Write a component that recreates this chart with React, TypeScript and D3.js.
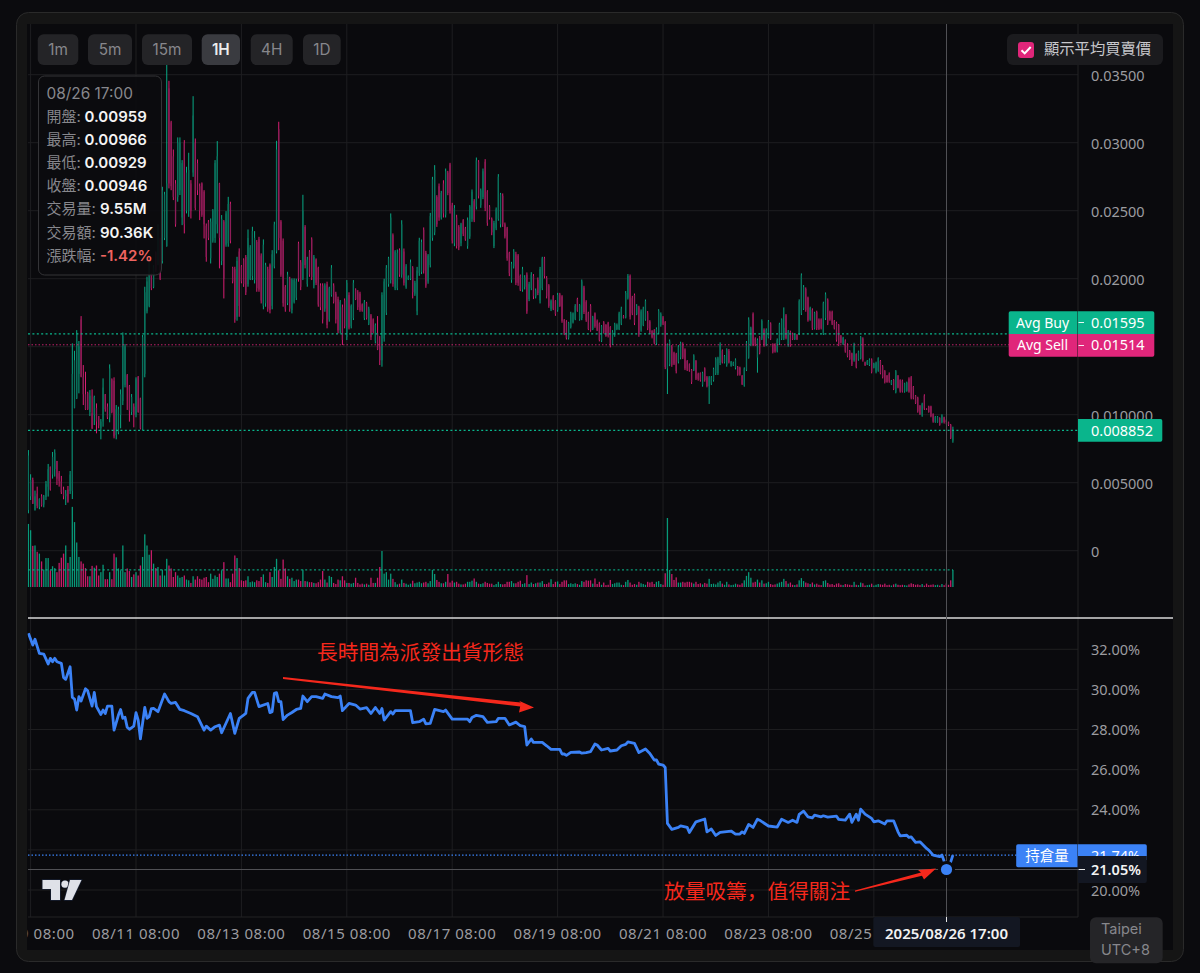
import React from "react";
import * as d3 from "d3";

// candle values in 1e-5 price units, one entry per hourly bar
const candleHigh = [
740,562,537,442,471,385,415,410,513,638,
618,726,745,660,586,550,471,446,476,586,
1525,1470,1622,1542,1725,1365,1316,1169,1181,1186,
1140,1083,990,968,1267,1152,1083,1370,1267,1275,
1071,1059,1186,1605,1520,1299,1218,1152,1083,1275,
1284,1125,1586,1941,2015,2186,2039,2100,2200,2400,
2300,2676,2639,3582,3455,3161,2950,2725,3039,3039,
2872,3019,2823,2926,2725,3342,3031,2877,2700,2708,
2651,2406,2431,2443,2512,2872,3012,2705,2468,2431,
2497,2602,2566,2088,2088,2161,2223,2100,2150,2174,
2362,2247,2382,2350,2284,2308,2186,2289,2117,2088,
2112,2210,2419,3014,3154,2431,2296,1953,2051,2014,
2002,2002,2000,2272,2137,2617,2394,2161,2210,2304,
2174,2149,2088,1966,1966,1966,1978,1941,2100,1966,
1904,1868,1843,1810,1855,1990,1900,1811,1990,1929,
1916,1904,1818,1843,1830,1794,1740,1708,1671,1725,
1578,1900,2000,2100,2161,2480,2333,2210,2215,2223,
2430,2222,2107,2024,2141,2092,1985,2087,2301,2288,
2377,2205,2181,2484,2749,2835,2614,2700,2646,2724,
2810,2793,2852,2558,2541,2470,2394,2411,2438,2381,
2450,2541,2656,2585,2891,2872,2663,2810,2879,2651,
2541,2450,2426,2524,2769,2631,2627,2413,2381,2198,
2124,2217,2198,2181,2031,2087,2026,2046,1977,2048,
2034,1928,2009,2087,2161,2161,2019,1960,1847,1879,
1842,1896,1896,1879,1703,1695,1683,1757,1752,1813,
1860,1813,1994,1948,1842,1757,1813,1727,1752,1700,
1678,1659,1688,1666,1683,1651,1622,1676,1671,1757,
1794,1732,1909,2034,2031,1874,1891,1813,1801,1774,
1794,1847,1762,1695,1622,1629,1642,1776,1752,1725,
1688,1524,1553,1512,1463,1455,1512,1537,1532,1488,
1402,1377,1336,1444,1402,1309,1311,1316,1348,1284,
1284,1284,1346,1422,1426,1532,1480,1439,1488,1483,
1395,1390,1414,1358,1353,1292,1348,1542,1716,1647,
1752,1569,1561,1578,1701,1635,1635,1696,1679,1525,
1525,1561,1676,1708,1789,1740,1623,1618,1603,1593,
1593,1848,2039,1953,1936,1868,1794,1782,1757,1765,
1708,1708,1831,1899,1855,1765,1765,1696,1684,1667,
1586,1573,1554,1525,1476,1456,1529,1451,1471,1578,
1569,1390,1402,1414,1414,1382,1390,1422,1402,1365,
1328,1292,1311,1255,1262,1328,1292,1260,1258,1235,
1243,1275,1284,1211,1145,1132,1071,1088,1150,1047,
1066,1066,1010,990,990,981,1003,985,966,949,
932,912,
];
const candleLow = [
275,373,344,295,312,305,324,319,373,398,
442,530,545,483,471,417,378,336,353,417,
380,1047,1115,1157,1275,1071,1035,1035,990,895,
924,863,900,819,912,1022,968,944,1010,826,
819,856,900,1071,1201,1035,949,998,907,981,
1015,892,887,1275,1745,1790,1916,1930,2050,2100,
1990,2112,2284,2235,2664,2651,2578,2382,2566,2615,
2394,2333,2480,2455,2443,2749,2504,2615,2431,2455,
2296,2125,2284,2112,2265,2264,2333,2076,2100,1855,
2235,2235,2260,1966,1676,1691,1720,1966,1940,1880,
1941,1990,1990,1965,1904,1904,1818,1775,1794,1757,
1745,1775,2076,2186,2210,2014,1794,1757,1806,1757,
1745,1818,1843,1978,1916,1990,2076,1941,2014,1990,
1929,1953,1794,1769,1671,1757,1635,1684,1868,1818,
1671,1598,1598,1512,1635,1549,1627,1635,1696,1843,
1770,1757,1757,1696,1700,1659,1549,1598,1524,1475,
1365,1353,1537,1733,1941,1965,1941,1916,1916,2014,
2007,1950,1926,1990,1990,1855,1874,1732,2021,2034,
2038,1933,1963,2083,2279,2320,2381,2426,2435,2450,
2450,2614,2479,2259,2239,2222,2210,2239,2313,2279,
2220,2293,2418,2416,2509,2590,2521,2585,2497,2389,
2435,2320,2225,2357,2426,2377,2381,2296,2132,2019,
1970,2075,1953,1948,1909,1904,1921,1742,1835,1916,
1850,1855,1879,1818,1916,2002,1855,1786,1762,1769,
1727,1757,1793,1676,1585,1553,1553,1634,1671,1695,
1757,1691,1695,1740,1683,1622,1610,1622,1639,1615,
1539,1534,1597,1573,1568,1495,1512,1573,1622,1622,
1659,1708,1708,1847,1700,1732,1659,1732,1573,1610,
1651,1691,1622,1593,1561,1519,1512,1593,1647,1659,
1335,1152,1357,1352,1365,1304,1377,1407,1409,1328,
1321,1316,1226,1321,1255,1250,1243,1206,1243,1201,
1079,1218,1243,1292,1292,1365,1377,1377,1353,1377,
1353,1358,1333,1287,1287,1218,1206,1321,1412,1505,
1505,1505,1309,1444,1549,1500,1505,1561,1549,1451,
1456,1458,1512,1549,1549,1554,1500,1500,1549,1549,
1549,1586,1733,1770,1757,1684,1691,1623,1627,1623,
1623,1627,1586,1696,1659,1691,1659,1627,1537,1505,
1524,1512,1456,1422,1402,1358,1390,1341,1397,1407,
1390,1358,1365,1358,1304,1341,1304,1316,1297,1267,
1230,1235,1235,1218,1181,1157,1194,1162,1163,1162,
1169,1162,1113,1113,1079,1015,998,985,1035,1035,
1015,981,941,941,941,919,937,935,929,917,
821,794,
];
const candleOpen = [
300,400,520,300,420,320,400,340,395,470,
618,560,600,660,570,510,450,400,450,440,
440,1050,1120,1300,1700,1280,1150,1160,1020,1010,
1000,1050,990,900,950,1150,1060,980,1260,1250,
850,870,1000,1100,1220,1290,1210,1020,1060,1000,
1280,1120,890,1300,1760,1800,2030,1940,2190,2110,
2290,2130,2300,2240,3400,3150,2900,2700,2600,2650,
2450,3000,2500,2500,2700,2780,3000,2850,2680,2700,
2640,2390,2420,2150,2280,2300,2400,2700,2130,2420,
2250,2260,2550,2080,2070,1720,2200,2090,2140,2160,
1960,2000,2020,1990,2270,2290,2170,1800,1820,2070,
2100,1800,2090,2200,3100,2420,2280,1940,1820,2000,
1770,1830,1860,2260,2120,2000,2380,1960,2200,2290,
1950,2140,2080,1950,1950,1780,1960,1700,1880,1950,
1890,1850,1620,1790,1840,1570,1880,1650,1710,1920,
1900,1890,1810,1710,1820,1670,1730,1700,1540,1600,
1500,1400,1560,1750,1960,1990,2320,1930,1930,2210,
2030,2200,1940,1995,2000,2080,1890,1760,2040,2050,
2360,2190,1980,2100,2300,2340,2600,2680,2450,2700,
2470,2780,2840,2540,2260,2450,2380,2260,2430,2370,
2240,2310,2440,2570,2530,2860,2540,2600,2860,2640,
2530,2440,2240,2370,2440,2400,2610,2400,2370,2190,
1990,2090,2180,2170,2020,1920,1940,2030,1850,1930,
2020,1870,1990,1840,1930,2150,2005,1950,1775,1870,
1835,1770,1885,1870,1695,1685,1565,1645,1680,1705,
1850,1700,1710,1935,1830,1750,1800,1630,1745,1690,
1670,1545,1680,1660,1675,1645,1520,1585,1630,1630,
1670,1725,1715,1860,2020,1860,1880,1740,1790,1620,
1660,1700,1750,1685,1615,1620,1525,1605,1660,1715,
1680,1340,1370,1500,1455,1445,1390,1420,1520,1480,
1395,1370,1330,1330,1395,1300,1305,1220,1340,1275,
1210,1230,1255,1305,1305,1380,1470,1385,1365,1470,
1360,1365,1345,1350,1345,1285,1215,1330,1420,1515,
1740,1560,1420,1570,1560,1625,1515,1570,1670,1515,
1515,1470,1525,1560,1560,1730,1510,1610,1595,1555,
1585,1595,1745,1780,1925,1860,1700,1770,1635,1755,
1700,1700,1595,1710,1845,1755,1755,1690,1675,1660,
1580,1520,1545,1515,1470,1450,1400,1445,1405,1415,
1560,1385,1370,1365,1405,1345,1315,1325,1395,1355,
1320,1285,1300,1222,1255,1165,1285,1255,1250,1170,
1175,1265,1275,1205,1140,1125,1065,995,1140,1045,
1060,1060,1005,945,945,975,945,980,959,945,
925,810,
];
const candleClose = [
700,520,345,400,330,380,335,400,490,600,
450,690,720,530,510,430,400,420,360,560,
1300,1400,1600,1500,1280,1150,1040,1040,1140,900,
1130,950,920,950,1200,1040,980,1340,1020,840,
1040,1040,1150,1580,1500,1200,1030,1130,1000,1260,
1020,900,1570,1900,1980,2150,1930,2080,2060,2380,
2000,2650,2620,2700,2700,2680,2600,2400,3000,3000,
2850,2400,2780,2800,2500,3200,2520,2650,2500,2470,
2400,2160,2300,2420,2500,2850,2900,2300,2440,2000,
2480,2550,2280,1980,1700,2130,1800,1980,1960,1900,
2300,2230,2350,2300,1930,1920,1840,2250,2100,1780,
1770,2180,2400,2950,2300,2030,1820,1780,2030,1780,
1990,1990,1980,2000,1940,2500,2100,2140,2030,2010,
2160,1970,1810,1790,1700,1950,1660,1930,2080,1830,
1700,1620,1830,1550,1650,1970,1640,1800,1970,1850,
1790,1770,1765,1830,1710,1780,1570,1610,1660,1480,
1400,1880,1980,2080,2150,2450,1960,2200,2190,2030,
2400,1970,2090,2015,2120,1900,1970,2060,2280,2270,
2060,1950,2170,2460,2730,2800,2400,2450,2630,2480,
2790,2630,2500,2280,2520,2240,2230,2400,2330,2290,
2430,2530,2640,2430,2870,2610,2650,2790,2520,2410,
2450,2340,2410,2510,2750,2620,2400,2310,2150,2040,
2110,2200,1970,1970,1920,2070,2010,1760,1960,2030,
1870,1915,1895,2070,2150,2020,1870,1800,1835,1780,
1740,1880,1800,1690,1595,1565,1675,1745,1745,1800,
1765,1805,1980,1755,1695,1630,1620,1715,1650,1620,
1550,1650,1605,1580,1580,1510,1610,1665,1660,1745,
1780,1712,1895,2020,1720,1745,1675,1800,1590,1760,
1780,1835,1635,1605,1570,1530,1630,1765,1740,1670,
1350,1515,1540,1365,1375,1320,1500,1525,1420,1340,
1330,1325,1240,1435,1265,1260,1255,1305,1255,1210,
1275,1275,1335,1410,1415,1520,1385,1430,1480,1385,
1388,1382,1405,1295,1295,1225,1340,1530,1700,1635,
1515,1515,1550,1455,1690,1510,1625,1685,1560,1460,
1465,1550,1665,1700,1640,1565,1610,1510,1555,1585,
1555,1835,2025,1940,1770,1695,1785,1635,1750,1635,
1630,1635,1820,1885,1670,1700,1670,1635,1550,1515,
1530,1565,1465,1430,1410,1370,1520,1350,1465,1570,
1400,1365,1395,1405,1315,1375,1380,1415,1305,1275,
1240,1240,1245,1250,1190,1320,1200,1170,1170,1230,
1235,1170,1125,1120,1085,1025,1005,1080,1045,1037,
1020,990,950,985,985,925,995,945,946,925,
830,885,
];
// volume per bar, millions
const barVolume = [
170,153,111,112,95,90,69,47,78,78,
45,56,51,40,65,79,90,112,65,81,
216,175,120,81,69,63,51,29,29,57,
52,58,31,40,60,21,21,40,21,90,
80,50,45,112,40,50,43,27,34,40,
31,58,81,142,112,87,99,63,51,54,
31,47,31,76,58,50,27,40,31,25,
27,31,20,18,11,29,20,29,22,20,
25,27,13,36,22,31,27,36,45,67,
23,23,13,36,85,78,51,18,16,18,
29,13,15,13,18,16,27,34,13,11,
40,27,54,76,45,22,74,50,29,22,
25,16,20,20,16,47,16,15,13,13,
11,10,13,20,43,20,12,30,27,11,
8,20,18,29,18,11,11,9,11,25,
11,7,9,7,9,6,25,11,11,25,
54,97,36,40,20,36,22,13,7,9,
20,11,9,6,9,17,10,12,14,10,
12,14,10,16,46,35,19,14,10,10,
14,35,12,17,12,14,9,7,7,9,
14,14,17,23,14,9,8,10,14,11,
9,9,5,8,14,8,7,8,14,14,
16,10,10,14,17,8,10,32,8,12,
8,10,12,12,16,8,8,12,21,8,
14,15,8,14,18,18,8,10,8,10,
8,6,16,14,18,17,18,9,23,8,
14,6,12,5,6,19,8,10,12,12,
6,5,14,19,12,6,8,6,14,10,
8,6,14,12,14,8,14,16,8,6,
37,186,46,35,19,26,12,12,14,12,
14,14,12,9,14,8,10,7,11,9,
22,8,9,7,12,16,9,6,14,7,
5,6,9,7,6,10,18,30,40,25,
12,14,20,12,18,9,10,14,8,6,
7,9,12,14,22,16,9,12,6,5,
7,18,24,16,12,10,8,12,7,9,
6,5,16,18,11,7,8,5,9,10,
6,5,8,7,6,5,14,6,5,12,
10,4,5,6,9,4,6,8,7,6,
9,5,6,4,7,9,6,5,6,5,
4,7,10,8,6,7,5,8,4,9,
5,6,7,5,6,4,8,5,9.55,6,
18,46,
];
// holder share line: vertices (bar index, percent)
const holdIdx = [
0,2,3,5,7,9,10,11,12,13,15,16,17,19,20,21,22,23,24,26,27,29,30,31,33,34,35,36,38,39,
41,42,43,44,45,46,48,49,50,51,53,54,55,56,57,59,62,64,65,67,69,71,74,77,80,81,83,85,87,88,
92,94,96,98,99,100,102,103,105,109,110,111,112,113,114,115,116,118,120,122,124,125,127,129,131,134,135,138,141,142,
143,146,149,151,154,156,158,160,161,162,165,166,167,174,175,178,180,181,183,185,189,190,193,200,201,202,204,207,209,213,
214,217,219,222,224,226,227,229,230,234,236,238,242,243,244,245,247,251,252,254,256,258,259,261,264,265,268,270,272,273,
276,278,281,283,285,286,287,289,290,291,293,296,297,300,301,304,308,309,311,313,315,320,322,324,325,326,328,330,332,333,
337,341,343,346,348,350,351,353,355,357,358,361,362,364,368,369,372,374,375,377,378,379,381,384,385,387,390,391,394,396,
397,400,401,402,404,406,409,410,412,415,416,417,418,420,421,
];
const holdPct = [
32.8,32.21,32.5,31.8,31.76,31.27,31.55,31.38,31.55,31.38,31.3,30.6,30.5,31.13,29.6,29.52,28.97,29.64,29.42,30.03,29.93,29.17,29.85,29.14,28.75,28.97,28.8,29.17,29.17,27.97,
28.72,29.0,28.56,28.61,28.11,28.01,28.17,28.84,28.47,27.53,29.1,28.56,28.64,29.04,29.05,28.89,29.77,29.39,29.3,29.35,29.0,28.94,28.8,28.64,27.97,28.17,27.97,28.14,28.22,27.84,
28.8,27.81,28.56,28.72,28.8,29.55,29.85,29.85,29.14,29.3,28.84,28.89,29.8,29.84,29.39,29.39,28.5,28.72,28.85,29.0,29.05,29.67,29.39,29.64,29.64,29.55,29.77,29.64,29.59,29.67,
28.94,29.3,29.22,29.02,29.09,28.8,29.1,28.8,29.05,28.47,28.89,28.77,28.94,28.94,28.34,28.39,28.52,28.28,28.31,29.0,28.89,28.97,28.52,28.52,28.39,28.6,28.71,28.64,28.36,28.39,
28.56,28.56,28.23,28.37,28.19,28.14,27.23,27.53,27.36,27.36,27.19,27.01,27.01,26.78,26.78,26.71,26.86,26.88,26.82,26.85,26.9,27.28,27.23,26.98,27.06,26.93,26.98,27.19,27.26,27.38,
27.31,26.85,27.03,26.81,26.48,26.48,26.28,26.23,26.11,23.32,23.02,23.12,23.2,23.12,22.87,23.4,23.54,22.9,23.04,22.72,22.87,22.94,22.79,22.79,22.9,22.82,23.27,23.12,23.53,23.48,
23.19,23.14,23.53,23.37,23.48,23.37,23.77,23.93,23.65,23.6,23.73,23.65,23.7,23.63,23.68,23.52,23.48,23.78,23.37,23.78,23.48,24.03,23.78,23.57,23.4,23.45,23.29,23.45,23.45,22.9,
22.7,22.73,22.62,22.65,22.37,22.4,22.07,21.99,21.74,21.66,21.74,21.44,21.05,21.4,21.74,
];

const priceTicks = [0.035, 0.03, 0.025, 0.02, 0.01, 0.005, 0];
const priceTickLabels = ["0.03500", "0.03000", "0.02500", "0.02000", "0.010000", "0.005000", "0"];
const priceGrid = [0.035, 0.03, 0.025, 0.02, 0.015, 0.01, 0.005, 0];
const pctTicks = [32, 30, 28, 26, 24, 20];
const pctGrid = [32, 30, 28, 26, 24, 22, 20];
const timeTickIdx = [1, 49, 97, 145, 193, 241, 289, 337, 385];
const timeTickLabels = ["08/09 08:00", "08/11 08:00", "08/13 08:00", "08/15 08:00", "08/17 08:00", "08/19 08:00", "08/21 08:00", "08/23 08:00", "08/25 08:00"];
const intervals = ["1m", "5m", "15m", "1H", "4H", "1D"];
const intervalX = [[37.7, 78.3], [88, 132], [142, 192], [201.7, 240], [250.7, 292.7], [303, 340.7]];
const tipLabels = ["開盤:", "最高:", "最低:", "收盤:", "交易量:", "交易額:", "漲跌幅:"];
const tipValues = ["0.00959", "0.00966", "0.00929", "0.00946", "9.55M", "90.36K", "-1.42%"];
const avgBuy = 0.01595;
const avgSell = 0.01514;
const lastPrice = 0.008852;
const lastVolume = 46;
const holdLast = 21.74;
const crossIdx = 418;
const crossPct = 21.05;

const GREEN = "#0ab58c";
const PINK = "#e0267a";
const WICK_UP = "#08a884";
const WICK_DN = "#d81e72";
const BODY_UP = "#0a705c";
const BODY_DN = "#8e1d58";
const GRID = "#1e1e20";
const BG = "#0a0a0d";
const TEXT = "#9c9ca0";
const AXIS_FONT = "'Noto Sans', 'Noto Sans CJK TC', sans-serif";
const UI_FONT = "Inter, 'Noto Sans CJK TC', sans-serif";
const CJK_FONT = "'Noto Sans CJK TC', sans-serif";
const NOTE_FONT = "'Noto Sans CJK SC', sans-serif";

const LEFT = 28;
const AXIS_X = 1078;
const x = d3.scaleLinear().domain([0, 421]).range([28.4, 952.9]);
const yP = d3.scaleLinear().domain([0, 0.035]).range([550.7, 74.7]);
const yPct = d3.scaleLinear().domain([20, 32]).range([890, 649.3]);
const yVol = d3.scaleLinear().domain([0, 186]).range([587, 518]);
const u = (v: number) => yP(v / 100000);

export default function App() {
  const holdLine = d3
    .line<number>()
    .x((d) => x(d))
    .y((_, i) => yPct(holdPct[i]))(holdIdx) as string;
  const cx = Math.round(x(crossIdx)) + 0.5;
  const cy = Math.round(yPct(crossPct)) + 0.5;
  const n = Math.min(candleHigh.length, candleLow.length, candleOpen.length, candleClose.length);
  return (
    <svg
      width={1200}
      height={973}
      viewBox="0 0 1200 973"
      style={{ position: "absolute", left: 0, top: 0, display: "block", background: "#0b0b0e" }}
    >
      <defs>
        <clipPath id="plot">
          <rect x={27.5} y={24} width={AXIS_X - 27.5} height={950} />
        </clipPath>
        <clipPath id="holdClip">
          <rect x={1078} y={844} width={69} height={12} />
        </clipPath>
      </defs>
      <rect x={16.5} y={12.5} width={1167} height={949} rx={12} fill="#151515" stroke="#2a2a2a" />
      <rect x={27} y={24} width={1146} height={926} fill={BG} />

      {/* grid */}
      {timeTickIdx.map((t) => (
        <line key={t} x1={x(t)} x2={x(t)} y1={24} y2={917} stroke={GRID} />
      ))}
      {priceGrid.map((t) => (
        <line key={t} x1={LEFT} x2={AXIS_X} y1={yP(t)} y2={yP(t)} stroke={GRID} />
      ))}
      {pctGrid.map((t) => (
        <line key={t} x1={LEFT} x2={AXIS_X} y1={yPct(t)} y2={yPct(t)} stroke={GRID} />
      ))}
      <line x1={AXIS_X} x2={AXIS_X} y1={24} y2={917} stroke="#232325" />
      <line x1={LEFT} x2={AXIS_X} y1={917} y2={917} stroke="#232325" />

      {/* volume */}
      <g clipPath="url(#plot)">
        {barVolume.map((v, i) => {
          const up = candleClose[i] >= candleOpen[i];
          return (
            <rect
              key={i}
              x={x(i) - 0.65}
              width={1.3}
              y={yVol(v)}
              height={587 - yVol(v)}
              fill={up ? WICK_UP : WICK_DN}
              opacity={0.9}
            />
          );
        })}
      </g>

      {/* candles */}
      <g clipPath="url(#plot)">
        {d3.range(n).map((i) => {
          const up = candleClose[i] >= candleOpen[i];
          return (
            <g key={i}>
              <rect
                x={x(i) - 0.5}
                width={1}
                y={u(candleHigh[i])}
                height={u(candleLow[i]) - u(candleHigh[i])}
                fill={up ? WICK_UP : WICK_DN}
              />
              <rect
                x={x(i) - 0.65}
                width={1.3}
                y={u(Math.max(candleOpen[i], candleClose[i]))}
                height={Math.abs(u(candleOpen[i]) - u(candleClose[i]))}
                fill={up ? BODY_UP : BODY_DN}
              />
            </g>
          );
        })}
      </g>

      {/* price lines */}
      <line x1={LEFT} x2={1009} y1={yP(avgBuy)} y2={yP(avgBuy)} stroke={GREEN} strokeWidth={1.3} strokeDasharray="2 2.4" />
      <line x1={LEFT} x2={1009} y1={yP(avgSell)} y2={yP(avgSell)} stroke={PINK} strokeDasharray="1.5 2" strokeOpacity={0.85} />
      <line x1={LEFT} x2={AXIS_X} y1={yP(lastPrice)} y2={yP(lastPrice)} stroke={GREEN} strokeWidth={1.3} strokeDasharray="2 2.4" />
      <line x1={LEFT} x2={953} y1={yVol(lastVolume)} y2={yVol(lastVolume)} stroke={GREEN} strokeWidth={1.3} strokeDasharray="2 2.4" strokeOpacity={0.85} />

      {/* pane separator */}
      <line x1={LEFT} x2={1173} y1={618} y2={618} stroke="#d8d8d8" strokeWidth={1.6} />

      {/* holding line */}
      <line x1={LEFT} x2={1017} y1={yPct(holdLast)} y2={yPct(holdLast)} stroke="#3b82f6" strokeDasharray="1.5 2" strokeWidth={1.3} />
      <g clipPath="url(#plot)">
        <path d={holdLine} fill="none" stroke="#3b82f6" strokeWidth={2.8} strokeLinejoin="round" />
      </g>

      {/* crosshair */}
      <line x1={cx} x2={cx} y1={24} y2={917} stroke="#505054" />
      <line x1={LEFT} x2={AXIS_X} y1={cy} y2={cy} stroke="#505054" />
      <circle cx={cx} cy={cy} r={8.5} fill={BG} />
      <circle cx={cx} cy={cy} r={5.6} fill="#3b82f6" />

      {/* price axis */}
      {priceTicks.map((t, i) => (
        <text key={t} x={1091} y={yP(t) + 6.5} fill={TEXT} fontFamily={AXIS_FONT} fontSize={14.5}>
          {priceTickLabels[i]}
        </text>
      ))}
      {pctTicks.map((t) => (
        <text key={t} x={1091} y={yPct(t) + 5.5} fill={TEXT} fontFamily={AXIS_FONT} fontSize={14.5}>
          {d3.format(".2f")(t)}%
        </text>
      ))}

      {/* time axis */}
      <g clipPath="url(#plot)">
        {timeTickIdx.map((t, i) => (
          <text key={t} x={x(t)} y={938.5} fill={TEXT} fontFamily={AXIS_FONT} fontSize={15} letterSpacing={0.55} textAnchor="middle">
            {timeTickLabels[i]}
          </text>
        ))}
      </g>
      <rect x={873.3} y={917} width={146.7} height={30} rx={2} fill="#131722" />
      <line x1={cx} x2={cx} y1={917} y2={922} stroke="#e8e8e8" />
      <text x={cx} y={938.5} fill="#f2f2f2" fontFamily={AXIS_FONT} fontSize={15} fontWeight={600} textAnchor="middle">
        2025/08/26 17:00
      </text>

      {/* price labels */}
      <path d="M1010.5 311.3H1077.5V334H1008.7V313.1a1.8 1.8 0 0 1 1.8-1.8Z" fill={GREEN} />
      <path d="M1078 311.3H1152.5a1.8 1.8 0 0 1 1.8 1.8V334H1078Z" fill={GREEN} />
      <path d="M1008.7 334H1077.5V356.7H1010.5a1.8 1.8 0 0 1-1.8-1.8Z" fill={PINK} />
      <path d="M1078 334H1154.3V354.9a1.8 1.8 0 0 1-1.8 1.8H1078Z" fill={PINK} />
      <text x={1042.5} y={327.5} fill="#fff" fontFamily={AXIS_FONT} fontSize={14} textAnchor="middle">Avg Buy</text>
      <text x={1042.5} y={350} fill="#fff" fontFamily={AXIS_FONT} fontSize={14} textAnchor="middle">Avg Sell</text>
      <line x1={1078.5} x2={1084} y1={322.5} y2={322.5} stroke="#e8f8f4" />
      <line x1={1078.5} x2={1084} y1={345.5} y2={345.5} stroke="#fbe6f0" />
      <text x={1091} y={327.5} fill="#fff" fontFamily={AXIS_FONT} fontSize={14.5}>0.01595</text>
      <text x={1091} y={350} fill="#fff" fontFamily={AXIS_FONT} fontSize={14.5}>0.01514</text>
      <path d="M1078 419H1160.5a1.8 1.8 0 0 1 1.8 1.8V439.9a1.8 1.8 0 0 1-1.8 1.8H1078Z" fill={GREEN} />
      <text x={1091} y={435.5} fill="#fff" fontFamily={AXIS_FONT} fontSize={14.5}>0.008852</text>

      {/* holding labels */}
      <path d="M1018 844.3H1077.5V867.3H1018a1.8 1.8 0 0 1-1.8-1.8V846.1a1.8 1.8 0 0 1 1.8-1.8Z" fill="#3b82f6" />
      <text x={1047} y={861} fill="#fff" fontFamily={CJK_FONT} fontSize={14.5} textAnchor="middle">持倉量</text>
      <path d="M1078 844.3H1145a1.8 1.8 0 0 1 1.8 1.8V860H1078Z" fill="#3b82f6" />
      <g clipPath="url(#holdClip)">
        <text x={1091} y={860.5} fill="#fff" fontFamily={AXIS_FONT} fontSize={14.5}>{holdLast.toFixed(2)}%</text>
      </g>
      <path d="M1078 856H1146.8V881a2 2 0 0 1-2 2H1078Z" fill="#131722" />
      <line x1={1078.5} x2={1085} y1={cy} y2={cy} stroke="#e8e8e8" />
      <text x={1091} y={cy + 5} fill="#f4f4f4" fontFamily={AXIS_FONT} fontSize={14.5} fontWeight={600}>{crossPct.toFixed(2)}%</text>

      {/* interval buttons */}
      {intervals.map((label, i) => {
        const [a, b] = intervalX[i];
        const active = label === "1H";
        return (
          <g key={label}>
            <rect x={a} y={34.3} width={b - a} height={30.7} rx={6} fill={active ? "#3a3b40" : "#242427"} />
            <text
              x={(a + b) / 2}
              y={55}
              textAnchor="middle"
              fill={active ? "#ededed" : "#87878c"}
              fontFamily={UI_FONT}
              fontSize={15.3}
              fontWeight={active ? 600 : 400}
            >
              {label}
            </text>
          </g>
        );
      })}

      {/* tooltip */}
      <rect x={38.5} y={76} width={123} height={199} rx={6} fill="#0c0c0f" fillOpacity={0.93} stroke="#343437" />
      <text x={46.5} y={99} fill="#87878c" fontFamily={UI_FONT} fontSize={15.4}>08/26 17:00</text>
      {tipLabels.map((lab, i) => {
        const rowY = 122 + i * 23.1;
        const valX = i < 4 ? 84.5 : 100;
        return (
          <g key={lab}>
            <text x={46.5} y={rowY} fill="#87878c" fontFamily={UI_FONT} fontSize={15}>{lab}</text>
            <text
              x={valX}
              y={rowY}
              fill={i === 6 ? "#ef6460" : "#f4f4f4"}
              fontFamily={UI_FONT}
              fontSize={15}
              fontWeight={600}
            >
              {tipValues[i]}
            </text>
          </g>
        );
      })}

      {/* legend checkbox */}
      <rect x={1007} y={34} width={156} height={31} rx={6} fill="#1b1b1e" />
      <rect x={1018} y={42} width={16} height={16} rx={3} fill={PINK} />
      <path d="M1021.5 50.2l3.2 3.2 6-6.4" fill="none" stroke="#fff" strokeWidth={2} />
      <text x={1044} y={54} fill="#c8c8cc" fontFamily={CJK_FONT} fontSize={15.3}>顯示平均買賣價</text>

      {/* annotations */}
      <text x={317} y={660} fill="#f5281c" fontFamily={NOTE_FONT} fontSize={20.7}>長時間為派發出貨形態</text>
      <path d="M283 677L520.8 702.6L519 700.8L534 707.5L519 712.5L520.2 706.4L283 679Z" fill="#f5281c" />
      <text x={664} y={899} fill="#f5281c" fontFamily={NOTE_FONT} fontSize={20.7}>放量吸籌，值得關注</text>
      <path d="M855 890.5L921 872.6L918 870L936 868.5L924 879.5L922 875.8L855 891.8Z" fill="#f5281c" />

      {/* TV mark */}
      <g fill="#dfe1e8" stroke="#182033" strokeWidth={1.4} paintOrder="stroke">
        <path d="M42.5 880H60V900H51V889H42.5Z" />
        <circle cx={65} cy={884.2} r={3.6} />
        <path d="M70 880H81.5L72 900H64.5Z" />
      </g>

      {/* timezone */}
      <rect x={1090} y={917.3} width={72.7} height={46} rx={6} fill="#252528" />
      <text x={1101} y={934} fill="#87878c" fontFamily={UI_FONT} fontSize={14.5}>Taipei</text>
      <text x={1101} y={955} fill="#87878c" fontFamily={UI_FONT} fontSize={14.5}>UTC+8</text>
    </svg>
  );
}
